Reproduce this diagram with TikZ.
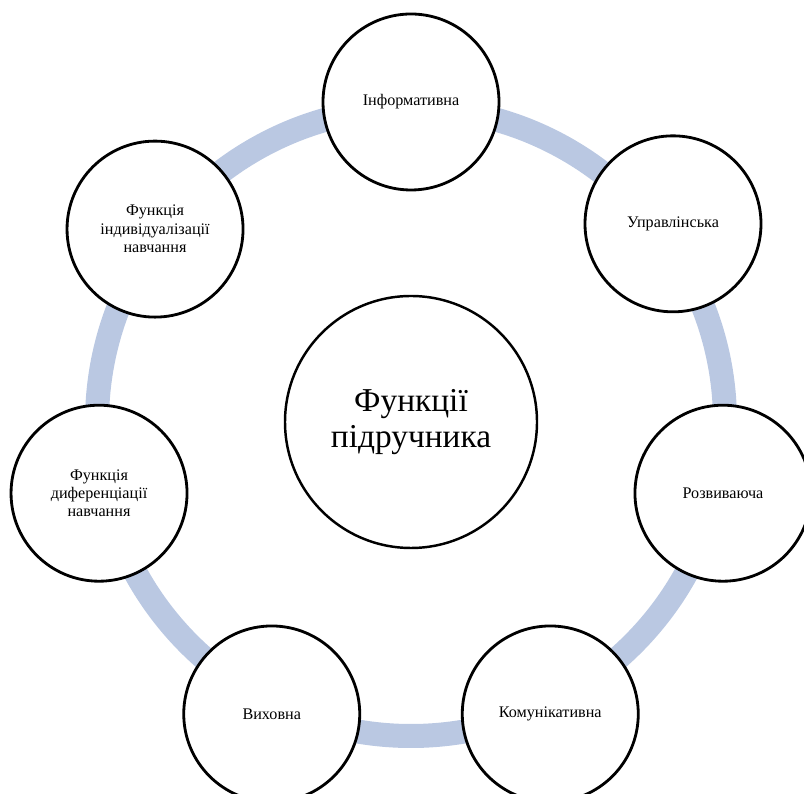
\documentclass[tikz,border=0pt]{standalone}
\usepackage{fontspec}
\setmainfont{Liberation Serif}
\usepackage{tikz}
\usetikzlibrary{positioning}
\definecolor{ringblue}{RGB}{186,200,226}

\begin{document}
\begin{tikzpicture}[
    funcnode/.style={circle, draw, line width=1.6pt, fill=white, minimum size=3.52cm,
        inner sep=1pt, align=center, font=\fontsize{9.2}{10.5}\selectfont},
    mainnode/.style={circle, draw, line width=1.4pt, fill=white, minimum size=5.04cm,
        align=center, font=\fontsize{19}{20.5}\selectfont},
    ringline/.style={draw=ringblue, line width=0.48cm},
]
    \useasboundingbox (0,0) rectangle (16.08,15.88);

    % Ring behind the functions
    \coordinate (mid) at (8.22,7.44);
    \draw[ringline] (mid) circle (6.28);

    % Centre
    \node[mainnode] (main) at (mid) {Функції\\підручника};

    % Seven functions round the ring
    \node[funcnode] (inform) at ([shift={(90:6.4)}]mid) {Інформативна};
    \node[funcnode] (upravl) at ([shift={(37.1:6.57)}]mid) {Управлінська};
    \node[funcnode] (rozv) at ([shift={(-12.86:6.4)}]mid) {Розвиваюча};
    \node[funcnode] (komun) at ([shift={(-64.5:6.47)}]mid) {Комунікативна};
    \node[funcnode] (vykh) at ([shift={(-115.5:6.47)}]mid) {Виховна};
    \node[funcnode] (dyfer) at ([shift={(-167.14:6.4)}]mid) {Функція\\диференціації\\навчання};
    \node[funcnode] (indyv) at ([shift={(143:6.41)}]mid) {Функція\\індивідуалізації\\навчання};
\end{tikzpicture}
\end{document}
